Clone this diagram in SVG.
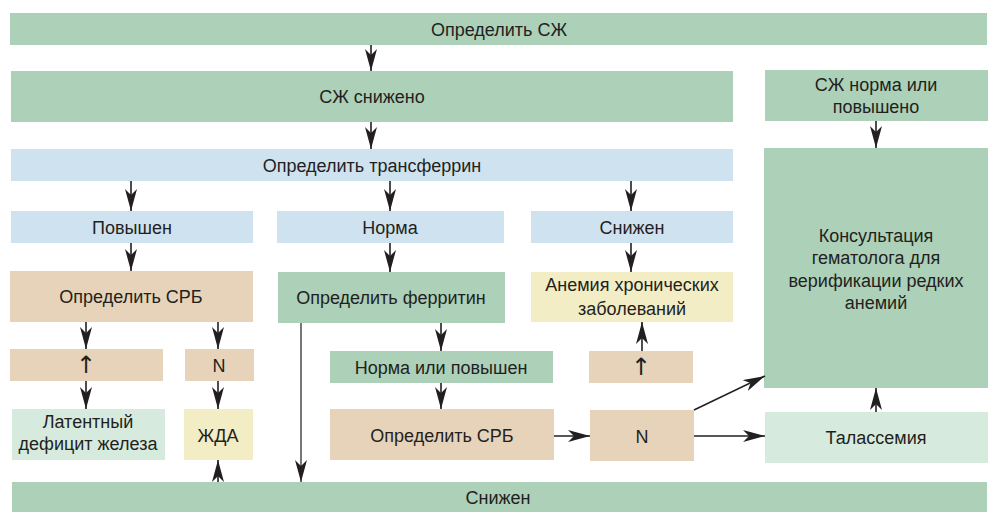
<svg xmlns="http://www.w3.org/2000/svg" width="988" height="513" viewBox="0 0 988 513">
<style>
text{font-family:"Liberation Sans","Noto Sans",sans-serif;font-size:18px;fill:#231f20;text-anchor:middle}
text.arr{font-family:"DejaVu Sans",sans-serif;font-size:24px}
.g{fill:#acd0b8}.b{fill:#cfe2f0}.t{fill:#e6d3b9}.lg{fill:#d6ebdd}.y{fill:#f2edc5}
.c{stroke:#231f20;stroke-width:1.6;fill:none;marker-end:url(#ah)}
</style>
<defs>
<marker id="ah" markerUnits="userSpaceOnUse" markerWidth="22" markerHeight="12" refX="22" refY="6" orient="auto" viewBox="0 0 22 12">
<path d="M0,0 L22,6 L0,12 L6,6 z" fill="#231f20"/>
</marker>
</defs>
<rect width="988" height="513" fill="#fff"/>
<g id="n-top"><rect class="g" x="10" y="13" width="977" height="32"/><text x="499" y="35.5">Определить СЖ</text></g>
<g id="n-szh-low"><rect class="g" x="11" y="71" width="722" height="51"/><text x="372" y="102.5">СЖ снижено</text></g>
<g id="n-szh-norm"><rect class="g" x="765" y="70" width="223" height="51"/><text x="876" y="90.5">СЖ норма или</text><text x="876" y="112.5">повышено</text></g>
<g id="n-transf"><rect class="b" x="11" y="149" width="722" height="32"/><text x="372" y="171.5">Определить трансферрин</text></g>
<g id="n-consult"><rect class="g" x="764" y="148" width="224" height="240"/><text x="876" y="241.5">Консультация</text><text x="876" y="263.5">гематолога для</text><text x="876" y="286.5">верификации редких</text><text x="876" y="308.5">анемий</text></g>
<g id="n-pov"><rect class="b" x="11" y="211" width="242" height="32"/><text x="132" y="233.5">Повышен</text></g>
<g id="n-norma"><rect class="b" x="277" y="211" width="227" height="32"/><text x="390" y="233.5">Норма</text></g>
<g id="n-snizh"><rect class="b" x="531" y="211" width="202" height="32"/><text x="632" y="233.5">Снижен</text></g>
<g id="n-srb1"><rect class="t" x="10" y="271" width="243" height="51"/><text x="131" y="302.5">Определить СРБ</text></g>
<g id="n-ferr"><rect class="g" x="278" y="272" width="227" height="51"/><text x="391" y="303.5">Определить ферритин</text></g>
<g id="n-anem"><rect class="y" x="531" y="272" width="202" height="50"/><text x="632" y="290.5">Анемия хронических</text><text x="632" y="314.5">заболеваний</text></g>
<g id="n-up1"><rect class="t" x="10" y="349" width="153" height="32"/><text class="arr" x="86" y="373">↑</text></g>
<g id="n-n1"><rect class="t" x="185" y="349" width="69" height="32"/><text x="219" y="371.5">N</text></g>
<g id="n-normpov"><rect class="g" x="330" y="351" width="223" height="32"/><text x="441" y="373.5">Норма или повышен</text></g>
<g id="n-up2"><rect class="t" x="589" y="351" width="104" height="32"/><text class="arr" x="641" y="375">↑</text></g>
<g id="n-latent"><rect class="lg" x="12" y="409" width="153" height="51"/><text x="88" y="427.5">Латентный</text><text x="88" y="449.5">дефицит железа</text></g>
<g id="n-zhda"><rect class="y" x="184" y="409" width="69" height="51"/><text x="218" y="441.5">ЖДА</text></g>
<g id="n-srb2"><rect class="t" x="330" y="409" width="224" height="51"/><text x="442" y="441.5">Определить СРБ</text></g>
<g id="n-n2"><rect class="t" x="590" y="410" width="104" height="51"/><text x="642" y="442.5">N</text></g>
<g id="n-thal"><rect class="lg" x="765" y="412" width="223" height="51"/><text x="876" y="443.5">Талассемия</text></g>
<g id="n-bottom"><rect class="g" x="12" y="482" width="975" height="30"/><text x="498" y="503.5">Снижен</text></g>
<g id="connectors">
<line class="c" x1="371" y1="45" x2="371" y2="71"/>
<line class="c" x1="371" y1="122" x2="371" y2="149"/>
<line class="c" x1="876" y1="121" x2="876" y2="148"/>
<line class="c" x1="131" y1="181" x2="131" y2="211"/>
<line class="c" x1="390" y1="181" x2="390" y2="211"/>
<line class="c" x1="631" y1="181" x2="631" y2="211"/>
<line class="c" x1="131" y1="243" x2="131" y2="271"/>
<line class="c" x1="390" y1="243" x2="390" y2="272"/>
<line class="c" x1="631" y1="243" x2="631" y2="272"/>
<line class="c" x1="86" y1="322" x2="86" y2="349"/>
<line class="c" x1="218" y1="322" x2="218" y2="349"/>
<line class="c" x1="86" y1="381" x2="86" y2="409"/>
<line class="c" x1="218" y1="381" x2="218" y2="409"/>
<line class="c" x1="218" y1="482" x2="218" y2="460"/>
<line class="c" x1="301" y1="323" x2="301" y2="482" style="stroke:#555"/>
<line class="c" x1="441" y1="323" x2="441" y2="351"/>
<line class="c" x1="441" y1="383" x2="441" y2="409"/>
<line class="c" x1="642" y1="351" x2="642" y2="322"/>
<line class="c" x1="554" y1="436" x2="590" y2="436"/>
<line class="c" x1="694" y1="436" x2="765" y2="436"/>
<line class="c" x1="694" y1="410" x2="765" y2="376"/>
<line class="c" x1="876" y1="412" x2="876" y2="388"/>
</g>
</svg>
